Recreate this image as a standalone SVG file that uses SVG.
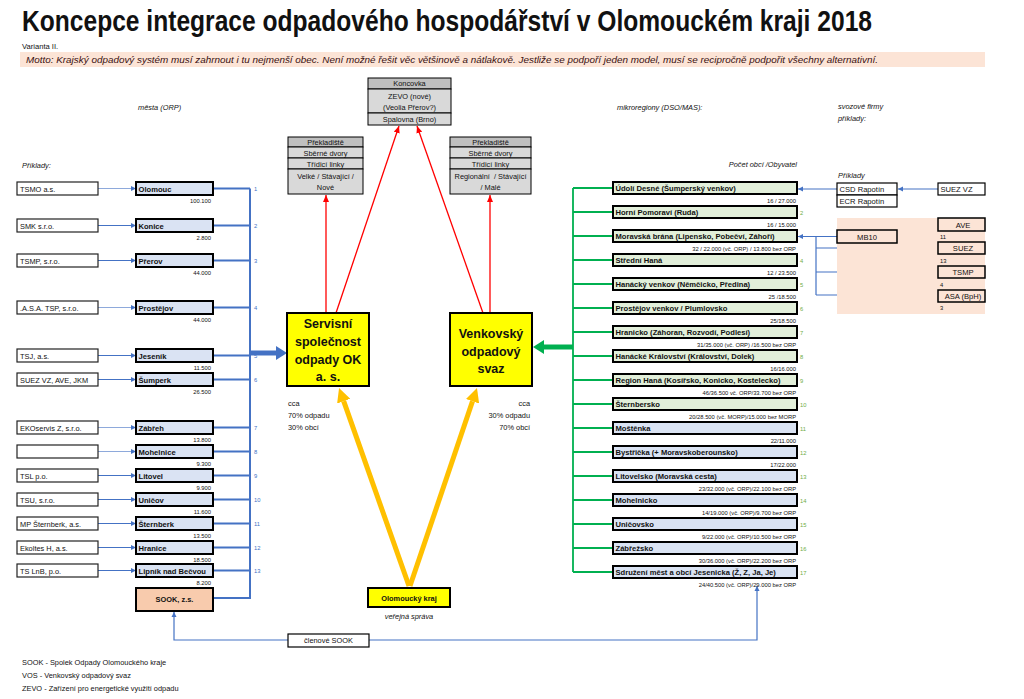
<svg xmlns="http://www.w3.org/2000/svg" width="1024" height="699" viewBox="0 0 1024 699">
<style>
text{font-family:"Liberation Sans",Arial,sans-serif;fill:#111}
.title{font-size:29px;font-weight:bold}
.s7{font-size:7.4px}
.s75{font-size:7.6px}
.s55{font-size:5.8px}
.b{font-weight:bold}
.i{font-style:italic}
.mid{text-anchor:middle}
.end{text-anchor:end}
.lb{fill:#fff;stroke:#222;stroke-width:1.2}
.cb{fill:#dae3f3;stroke:#000;stroke-width:2}
.gb{fill:#e2efda;stroke:#000;stroke-width:2}
.pb{fill:#f8cbad;stroke:#000;stroke-width:2}
.yb{fill:#ffff00;stroke:#000;stroke-width:2}
.gc{fill:#d9d9d9;stroke:#000;stroke-width:1}
.gh{fill:#bfbfbf;stroke:#000;stroke-width:1}
.wb{fill:#fff;stroke:#000;stroke-width:1.2}
.fb{fill:#fce4d6;stroke:#000;stroke-width:1.5}
.lc{stroke:#8ea9db;stroke-width:1.2;fill:none}
.dc{stroke:#4472c4;stroke-width:1.2;fill:none}
.bl{stroke:#4472c4;stroke-width:2;fill:none}
.gl{stroke:#00b050;stroke-width:1.8;fill:none}
.rl{stroke:#ff0000;stroke-width:1.3;fill:none}
.ol{stroke:#ffc000;stroke-width:5;fill:none}
.num{font-size:5.8px;fill:#4472c4}
.gnum{font-size:5.8px;fill:#70ad47}
</style>
<defs>
<marker id="aS" markerUnits="userSpaceOnUse" viewBox="0 -3 5 6" refX="5" refY="0" markerWidth="5" markerHeight="6" orient="auto"><path d="M0,-2.5L5,0L0,2.5z" fill="#4472c4"/></marker>
<marker id="aR" markerUnits="userSpaceOnUse" viewBox="0 -3 7 6" refX="7" refY="0" markerWidth="7" markerHeight="6" orient="auto"><path d="M0,-3L7,0L0,3z" fill="#ff0000"/></marker>
<marker id="aO" markerUnits="userSpaceOnUse" viewBox="0 -7 14 14" refX="0" refY="0" markerWidth="14" markerHeight="14" orient="auto"><path d="M0,-7L14,0L0,7z" fill="#ffc000"/></marker>
<marker id="aB" markerUnits="userSpaceOnUse" viewBox="0 -7 11 14" refX="0" refY="0" markerWidth="11" markerHeight="14" orient="auto"><path d="M0,-7L11,0L0,7z" fill="#4472c4"/></marker>
<marker id="aG" markerUnits="userSpaceOnUse" viewBox="0 -7 11 14" refX="0" refY="0" markerWidth="11" markerHeight="14" orient="auto"><path d="M0,-7L11,0L0,7z" fill="#00b050"/></marker>
</defs>
<rect width="1024" height="699" fill="#fff"/>

<g id="header">
<text class="title" x="22" y="31" textLength="850" lengthAdjust="spacingAndGlyphs">Koncepce integrace odpadového hospodářství v Olomouckém kraji 2018</text>
<text class="s75" x="22" y="49">Varianta II.</text>
<rect x="20" y="52" width="965" height="15" fill="#fce4d6"/>
<text class="i" x="26" y="63" font-size="8.5" textLength="852" lengthAdjust="spacingAndGlyphs" style="fill:#3a1010">Motto: Krajský odpadový systém musí zahrnout i tu nejmenší obec. Není možné řešit věc většinově a nátlakově. Jestliže se podpoří jeden model, musí se recipročně podpořit všechny alternativní.</text>
<text class="s7 i" x="138" y="110">města (ORP)</text>
<text class="s7 i" x="22" y="168">Příklady:</text>
<text class="s7 i" x="617" y="110">mikroregiony (DSO/MAS):</text>
<text class="s7 i end" x="797" y="167">Počet obcí /Obyvatel</text>
<text class="s7 i" x="838" y="109">svozové firmy</text>
<text class="s7 i" x="838" y="121">příklady:</text>
<text class="s7 i" x="838" y="178">Příklady</text>
</g>

<g id="connectors">
<line class="lc" x1="98" y1="188.5" x2="136" y2="188.5" marker-end="url(#aS)"/>
<line class="dc" x1="98" y1="225.5" x2="136" y2="225.5" marker-end="url(#aS)"/>
<line class="dc" x1="98" y1="260.5" x2="136" y2="260.5" marker-end="url(#aS)"/>
<line class="lc" x1="98" y1="307.5" x2="136" y2="307.5" marker-end="url(#aS)"/>
<line class="dc" x1="98" y1="355.5" x2="136" y2="355.5" marker-end="url(#aS)"/>
<line class="dc" x1="98" y1="379.5" x2="136" y2="379.5" marker-end="url(#aS)"/>
<line class="lc" x1="98" y1="427.5" x2="136" y2="427.5" marker-end="url(#aS)"/>
<line class="lc" x1="98" y1="451.5" x2="136" y2="451.5" marker-end="url(#aS)"/>
<line class="dc" x1="98" y1="475.5" x2="136" y2="475.5" marker-end="url(#aS)"/>
<line class="dc" x1="98" y1="499.5" x2="136" y2="499.5" marker-end="url(#aS)"/>
<line class="dc" x1="98" y1="523.5" x2="136" y2="523.5" marker-end="url(#aS)"/>
<line class="dc" x1="98" y1="547.5" x2="136" y2="547.5" marker-end="url(#aS)"/>
<line class="dc" x1="98" y1="570.5" x2="136" y2="570.5" marker-end="url(#aS)"/>
<path class="bl" d="M213,188.5H250M213,225.5H250M213,260.5H250M213,307.5H250M213,355.5H250M213,379.5H250M213,427.5H250M213,451.5H250M213,475.5H250M213,499.5H250M213,523.5H250M213,547.5H250M213,570.5H250M213,598H250M250,188.5V599"/>
<line x1="250" y1="353" x2="276" y2="353" stroke="#4472c4" stroke-width="5" marker-end="url(#aB)"/>
<path class="gl" d="M573,188V572M573,188H613M573,212H613M573,236H613M573,260H613M573,284H613M573,308H613M573,332H613M573,356H613M573,380H613M573,404H613M573,428H613M573,452H613M573,476H613M573,500H613M573,524H613M573,548H613M573,572H613"/>
<line x1="573" y1="347" x2="544" y2="347" stroke="#00b050" stroke-width="5" marker-end="url(#aG)"/>
<line class="rl" x1="326" y1="313" x2="326" y2="195" marker-end="url(#aR)"/>
<line class="rl" x1="336" y1="313" x2="399" y2="126" marker-end="url(#aR)"/>
<line class="rl" x1="483" y1="313" x2="417" y2="126" marker-end="url(#aR)"/>
<line class="rl" x1="490" y1="313" x2="490" y2="195" marker-end="url(#aR)"/>
<line class="ol" x1="409" y1="586" x2="343.7" y2="401.2" marker-end="url(#aO)"/>
<line class="ol" x1="410" y1="586" x2="472.5" y2="401.3" marker-end="url(#aO)"/>
<line class="dc" x1="837" y1="189" x2="798" y2="189" marker-end="url(#aS)"/>
<line class="dc" x1="938" y1="189" x2="898" y2="189" marker-end="url(#aS)"/>
<line class="dc" x1="837" y1="236.5" x2="798" y2="236.5" marker-end="url(#aS)"/>
<line class="dc" x1="938" y1="223" x2="898" y2="237" marker-end="url(#aS)"/>
<path class="dc" d="M816,236.5V295M816,248H938M816,272H938M816,295H938"/>
<path class="dc" d="M288,640H174V612" marker-end="url(#aS)"/>
<path class="dc" d="M369,640H757V586" marker-end="url(#aS)"/>
</g>

<g id="companies" class="s7">
<rect class="lb" x="17" y="182" width="81" height="13"/><text x="20" y="191.5">TSMO a.s.</text>
<rect class="lb" x="17" y="219" width="81" height="13"/><text x="20" y="228.5">SMK s.r.o.</text>
<rect class="lb" x="17" y="254" width="81" height="13"/><text x="20" y="263.5">TSMP, s.r.o.</text>
<rect class="lb" x="17" y="301" width="81" height="13"/><text x="20" y="310.5">.A.S.A. TSP, s.r.o.</text>
<rect class="lb" x="17" y="349" width="81" height="13"/><text x="20" y="358.5">TSJ, a.s.</text>
<rect class="lb" x="17" y="373" width="81" height="13"/><text x="20" y="382.5">SUEZ VZ, AVE, JKM</text>
<rect class="lb" x="17" y="421" width="81" height="13"/><text x="20" y="430.5">EKOservis Z, s.r.o.</text>
<rect class="lb" x="17" y="445" width="81" height="13"/>
<rect class="lb" x="17" y="469" width="81" height="13"/><text x="20" y="478.5">TSL p.o.</text>
<rect class="lb" x="17" y="493" width="81" height="13"/><text x="20" y="502.5">TSU, s.r.o.</text>
<rect class="lb" x="17" y="517" width="81" height="13"/><text x="20" y="526.5">MP Šternberk, a.s.</text>
<rect class="lb" x="17" y="541" width="81" height="13"/><text x="20" y="550.5">Ekoltes H, a.s.</text>
<rect class="lb" x="17" y="564" width="81" height="13"/><text x="20" y="573.5">TS LnB, p.o.</text>
</g>

<g id="cities">
<g id="city-olomouc"><rect class="cb" x="136" y="182" width="77" height="13"/><text class="s75 b" x="138.5" y="191.5">Olomouc</text><text class="s55 end" x="211" y="203">100.100</text><text class="num" x="254" y="191">1</text></g>
<g id="city-konice"><rect class="cb" x="136" y="219" width="77" height="13"/><text class="s75 b" x="138.5" y="228.5">Konice</text><text class="s55 end" x="211" y="240">2.800</text><text class="num" x="254" y="228">2</text></g>
<g id="city-prerov"><rect class="cb" x="136" y="254" width="77" height="13"/><text class="s75 b" x="138.5" y="263.5">Přerov</text><text class="s55 end" x="211" y="275">44.000</text><text class="num" x="254" y="263">3</text></g>
<g id="city-prostejov"><rect class="cb" x="136" y="301" width="77" height="13"/><text class="s75 b" x="138.5" y="310.5">Prostějov</text><text class="s55 end" x="211" y="322">44.000</text><text class="num" x="254" y="310">4</text></g>
<g id="city-jesenik"><rect class="cb" x="136" y="349" width="77" height="13"/><text class="s75 b" x="138.5" y="358.5">Jeseník</text><text class="s55 end" x="211" y="370">11.500</text><text class="num" x="254" y="358">5</text></g>
<g id="city-sumperk"><rect class="cb" x="136" y="373" width="77" height="13"/><text class="s75 b" x="138.5" y="382.5">Šumperk</text><text class="s55 end" x="211" y="394">26.500</text><text class="num" x="254" y="382">6</text></g>
<g id="city-zabreh"><rect class="cb" x="136" y="421" width="77" height="13"/><text class="s75 b" x="138.5" y="430.5">Zábřeh</text><text class="s55 end" x="211" y="442">13.800</text><text class="num" x="254" y="430">7</text></g>
<g id="city-mohelnice"><rect class="cb" x="136" y="445" width="77" height="13"/><text class="s75 b" x="138.5" y="454.5">Mohelnice</text><text class="s55 end" x="211" y="466">9.300</text><text class="num" x="254" y="454">8</text></g>
<g id="city-litovel"><rect class="cb" x="136" y="469" width="77" height="13"/><text class="s75 b" x="138.5" y="478.5">Litovel</text><text class="s55 end" x="211" y="490">9.900</text><text class="num" x="254" y="478">9</text></g>
<g id="city-unicov"><rect class="cb" x="136" y="493" width="77" height="13"/><text class="s75 b" x="138.5" y="502.5">Uničov</text><text class="s55 end" x="211" y="514">11.600</text><text class="num" x="254" y="502">10</text></g>
<g id="city-sternberk"><rect class="cb" x="136" y="517" width="77" height="13"/><text class="s75 b" x="138.5" y="526.5">Šternberk</text><text class="s55 end" x="211" y="538">13.500</text><text class="num" x="254" y="526">11</text></g>
<g id="city-hranice"><rect class="cb" x="136" y="541" width="77" height="13"/><text class="s75 b" x="138.5" y="550.5">Hranice</text><text class="s55 end" x="211" y="562">18.500</text><text class="num" x="254" y="550">12</text></g>
<g id="city-lipnik"><rect class="cb" x="136" y="564" width="77" height="13"/><text class="s75 b" x="138.5" y="573.5">Lipník nad Bečvou</text><text class="s55 end" x="211" y="585">8.200</text><text class="num" x="254" y="573">13</text></g>
<g id="sook"><rect class="pb" x="136" y="588" width="77" height="23"/><text class="s7 b mid" x="174.5" y="602">SOOK, z.s.</text></g>
</g>

<g id="koncovka">
<rect class="gh" x="368" y="78" width="83" height="11"/><text class="s7 mid" x="409.5" y="86">Koncovka</text>
<rect class="gc" x="368" y="89" width="83" height="24"/><text class="s7 mid" x="409.5" y="99">ZEVO (nové)</text><text class="s7 mid" x="409.5" y="109.5">(Veolia Přerov?)</text>
<rect class="gc" x="368" y="113" width="83" height="12"/><text class="s7 mid" x="409.5" y="122">Spalovna (Brno)</text>
</g>
<g id="prekladiste-l">
<rect class="gh" x="288" y="137" width="75" height="10"/><text class="s7 mid" x="325.5" y="144.5">Překladiště</text>
<rect class="gc" x="288" y="147" width="75" height="11"/><text class="s7 mid" x="325.5" y="155.5">Sběrné dvory</text>
<rect class="gc" x="288" y="158" width="75" height="11"/><text class="s7 mid" x="325.5" y="166.5">Třídicí linky</text>
<rect class="gc" x="288" y="169" width="75" height="25"/><text class="s7 mid" x="325.5" y="178.5">Velké / Stávající /</text><text class="s7 mid" x="325.5" y="190">Nové</text>
</g>
<g id="prekladiste-r">
<rect class="gh" x="450" y="137" width="81" height="10"/><text class="s7 mid" x="490.5" y="144.5">Překladiště</text>
<rect class="gc" x="450" y="147" width="81" height="11"/><text class="s7 mid" x="490.5" y="155.5">Sběrné dvory</text>
<rect class="gc" x="450" y="158" width="81" height="11"/><text class="s7 mid" x="490.5" y="166.5">Třídicí linky</text>
<rect class="gc" x="450" y="169" width="81" height="25"/><text class="s7 mid" x="490.5" y="178.5" xml:space="preserve">Regionální  / Stávající</text><text class="s7 mid" x="490.5" y="190">/ Malé</text>
</g>

<g id="servisni">
<rect class="yb" x="287" y="313" width="82" height="73"/>
<text class="b mid" font-size="12.5" x="328" y="328">Servisní</text>
<text class="b mid" font-size="12.5" x="328" y="346">společnost</text>
<text class="b mid" font-size="12.5" x="328" y="364">odpady OK</text>
<text class="b mid" font-size="12.5" x="328" y="381">a. s.</text>
<text class="s7" x="288" y="406">cca</text>
<text class="s7" x="288" y="418">70% odpadu</text>
<text class="s7" x="288" y="430">30% obcí</text>
</g>
<g id="venkovsky">
<rect class="yb" x="450" y="313" width="82" height="73"/>
<text class="b mid" font-size="12.5" x="491" y="338">Venkovský</text>
<text class="b mid" font-size="12.5" x="491" y="356">odpadový</text>
<text class="b mid" font-size="12.5" x="491" y="373">svaz</text>
<text class="s7 end" x="530" y="406">cca</text>
<text class="s7 end" x="530" y="418">30% odpadu</text>
<text class="s7 end" x="530" y="430">70% obcí</text>
</g>
<g id="kraj">
<rect class="yb" x="368" y="588" width="82" height="19"/>
<text class="s7 b mid" x="409" y="600.5">Olomoucký kraj</text>
<text class="s7 i mid" x="409" y="619">veřejná správa</text>
</g>

<g id="mikroregiony">
<g><rect class="gb" x="613" y="182" width="184" height="12"/><text class="s75 b" x="615.5" y="191">Údolí Desné (Šumperský venkov)</text><text class="s55 end" x="796" y="203">16 / 27.000</text></g>
<g><rect class="gb" x="613" y="206" width="184" height="12"/><text class="s75 b" x="615.5" y="215">Horní Pomoraví (Ruda)</text><text class="s55 end" x="796" y="227">16 / 15.000</text><text class="gnum" x="800" y="214.5">2</text></g>
<g><rect class="gb" x="613" y="230" width="184" height="12"/><text class="s75 b" x="615.5" y="239">Moravská brána (Lipensko, Pobečví, Záhoří)</text><text class="s55 end" x="796" y="251">32 / 22.000 (vč. ORP) / 13.800 bez ORP</text></g>
<g><rect class="gb" x="613" y="254" width="184" height="12"/><text class="s75 b" x="615.5" y="263">Střední Haná</text><text class="s55 end" x="796" y="275">12 / 23.500</text><text class="gnum" x="800" y="262.5">4</text></g>
<g><rect class="gb" x="613" y="278" width="184" height="12"/><text class="s75 b" x="615.5" y="287">Hanácký venkov (Němčicko, Předina)</text><text class="s55 end" x="796" y="299">25 /18.500</text><text class="gnum" x="800" y="286.5">5</text></g>
<g><rect class="gb" x="613" y="302" width="184" height="12"/><text class="s75 b" x="615.5" y="311">Prostějov venkov / Plumlovsko</text><text class="s55 end" x="796" y="323">25/18.500</text><text class="gnum" x="800" y="310.5">6</text></g>
<g><rect class="gb" x="613" y="326" width="184" height="12"/><text class="s75 b" x="615.5" y="335">Hranicko (Záhoran, Rozvodí, Podlesí)</text><text class="s55 end" x="796" y="347">31/35.000 (vč. ORP) /16.500 bez ORP</text><text class="gnum" x="800" y="334.5">7</text></g>
<g><rect class="gb" x="613" y="350" width="184" height="12"/><text class="s75 b" x="615.5" y="359">Hanácké Království (Království, Dolek)</text><text class="s55 end" x="796" y="371">16/16.000</text><text class="gnum" x="800" y="358.5">8</text></g>
<g><rect class="gb" x="613" y="374" width="184" height="12"/><text class="s75 b" x="615.5" y="383">Region Haná (Kosířsko, Konicko, Kostelecko)</text><text class="s55 end" x="796" y="395">46/36.500 vč. ORP/33.700 bez ORP</text><text class="gnum" x="800" y="382.5">9</text></g>
<g><rect class="gb" x="613" y="398" width="184" height="12"/><text class="s75 b" x="615.5" y="407">Šternbersko</text><text class="s55 end" x="796" y="419">20/28.500 (vč. MORP)/15.000 bez MORP</text><text class="gnum" x="800" y="406.5">10</text></g>
<g><rect class="cb" x="613" y="422" width="184" height="12"/><text class="s75 b" x="615.5" y="431">Moštěnka</text><text class="s55 end" x="796" y="443">22/11.000</text><text class="gnum" x="800" y="430.5">11</text></g>
<g><rect class="cb" x="613" y="446" width="184" height="12"/><text class="s75 b" x="615.5" y="455">Bystřička (+ Moravskoberounsko)</text><text class="s55 end" x="796" y="467">17/22.000</text><text class="gnum" x="800" y="454.5">12</text></g>
<g><rect class="cb" x="613" y="470" width="184" height="12"/><text class="s75 b" x="615.5" y="479">Litovelsko (Moravská cesta)</text><text class="s55 end" x="796" y="491">23/32.000 (vč. ORP)/22.100 bez ORP</text><text class="gnum" x="800" y="478.5">13</text></g>
<g><rect class="cb" x="613" y="494" width="184" height="12"/><text class="s75 b" x="615.5" y="503">Mohelnicko</text><text class="s55 end" x="796" y="515">14/19.000 (vč. ORP)/9.700 bez ORP</text><text class="gnum" x="800" y="502.5">14</text></g>
<g><rect class="cb" x="613" y="518" width="184" height="12"/><text class="s75 b" x="615.5" y="527">Uničovsko</text><text class="s55 end" x="796" y="539">9/22.000 (vč. ORP)/10.500 bez ORP</text><text class="gnum" x="800" y="526.5">15</text></g>
<g><rect class="cb" x="613" y="542" width="184" height="12"/><text class="s75 b" x="615.5" y="551">Zábřežsko</text><text class="s55 end" x="796" y="563">30/36.000 (vč. ORP)/22.200 bez ORP</text><text class="gnum" x="800" y="550.5">16</text></g>
<g><rect class="cb" x="613" y="566" width="184" height="12"/><text class="s75 b" x="615.5" y="575">Sdružení měst a obcí Jesenicka (Ž, Z, Ja, Je)</text><text class="s55 end" x="796" y="587">24/40.500 (vč. ORP)/29.000 bez ORP</text><text class="gnum" x="800" y="574.5">17</text></g>
</g>

<g id="svozove-firmy">
<rect class="wb" x="837" y="183" width="60" height="12"/><text class="s75" x="839.5" y="192">CSD Rapotín</text>
<rect class="wb" x="837" y="195" width="60" height="12"/><text class="s75" x="839.5" y="204">ECR Rapotín</text>
<rect class="wb" x="938" y="183" width="47" height="12"/><text class="s75" x="940.5" y="192">SUEZ VZ</text>
<rect x="837" y="218" width="148" height="96" fill="#fce4d6"/>
<rect class="fb" x="837" y="230" width="60" height="13"/><text class="s75 mid" x="867" y="239.5">MB10</text>
<rect class="fb" x="938" y="218" width="47" height="13"/><text class="s75 mid" x="963" y="227.5">AVE</text>
<rect class="fb" x="938" y="242" width="47" height="12"/><text class="s75 mid" x="963" y="251">SUEZ</text>
<rect class="fb" x="938" y="266" width="47" height="12"/><text class="s75 mid" x="963" y="275">TSMP</text>
<rect class="fb" x="938" y="290" width="47" height="12"/><text class="s75 mid" x="963" y="299">ASA (BpH)</text>
<text class="s55" x="940" y="239">11</text>
<text class="s55" x="940" y="263">13</text>
<text class="s55" x="940" y="287">4</text>
<text class="s55" x="940" y="310">3</text>
</g>

<g id="clenove-sook">
<rect class="wb" x="288" y="634" width="81" height="13"/><text class="s7 mid" x="328.5" y="643">členové SOOK</text>
</g>

<g id="legend" class="s7">
<text x="22" y="665">SOOK - Spolek Odpady Olomouckého kraje</text>
<text x="22" y="678">VOS - Venkovský odpadový svaz</text>
<text x="22" y="691">ZEVO - Zařízení pro energetické využití odpadu</text>
</g>
</svg>
